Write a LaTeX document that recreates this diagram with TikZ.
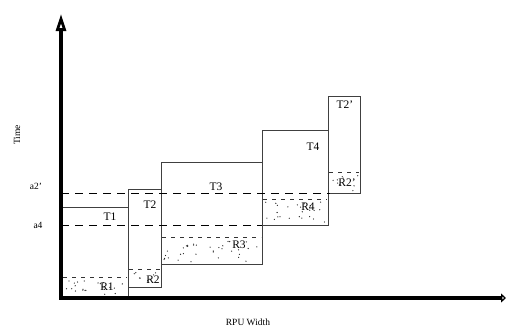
\documentclass[tikz,border=0pt]{standalone}
\usepackage{fontspec}
\setmainfont{Liberation Serif}
\usetikzlibrary{arrows.meta}
\begin{document}
\begin{tikzpicture}[x=1pt,y=-1pt,
  box/.style={draw=black!75,line width=0.9pt},
  lvl/.style={draw=black,line width=0.9pt,dash pattern=on 8pt off 6pt},
  rtop/.style={draw=black!80,line width=0.9pt,dash pattern=on 4pt off 5pt},
  lab/.style={font=\fontsize{11.5}{11.5}\selectfont,inner sep=0pt},
  axlab/.style={font=\fontsize{9.5}{9.5}\selectfont,inner sep=0pt},
  axis/.style={line width=3.5pt,draw=black}]
\useasboundingbox (0,0) rectangle (507,332);
% boxes
\draw[box] (61,207) -- (128,207);
\draw[box] (128,298) -- (128,189) -- (161,189) -- (161,287) -- (128,287);
\draw[box] (161,264) -- (161,162) -- (262,162) -- (262,264) -- cycle;
\draw[box] (262,225) -- (262,130) -- (328,130) -- (328,225) -- cycle;
\draw[box] (328,193) -- (328,96) -- (360,96) -- (360,193) -- cycle;
% reconfiguration tops
\draw[rtop] (63,277) -- (127,277);
\draw[rtop] (129,269) -- (160,269);
\draw[rtop] (162,237) -- (261,237);
\draw[rtop] (263,199) -- (327,199);
\draw[rtop] (329,172) -- (359,172);
% dots
\pgfmathsetseed{11}
\foreach \xa/\ya/\xb/\yb/\n in {64/280/126/295/22, 131/272/159/285/9, 164/241/260/262/34, 265/202/326/223/24, 331/175/358/191/9}{
  \foreach \i in {1,...,\n}{
    \pgfmathsetmacro\px{\xa+rnd*(\xb-\xa)}
    \pgfmathsetmacro\py{\ya+rnd*(\yb-\ya)}
    \fill[black!85] (\px,\py) circle (0.65pt);
  }
}
% levels
\draw[lvl] (61,193) -- (330,193);
\draw[lvl] (61,225) -- (262,225);
% axes
\coordinate (O) at (61,298);
\coordinate (ytop) at (61,14);
\coordinate (xend) at (506,298);
\draw[axis,-{Triangle[open,length=17pt,width=10pt,line width=2.8pt]}] (O) -- (ytop);
\draw[axis,-{Triangle[open,length=5pt,width=9pt,line width=2pt]}] ([xshift=-1.75pt]O) -- (xend);
% labels
\node[lab] (t1) at (110,217) {T1};
\node[lab] (t2) at (150,205) {T2};
\node[lab] (t3) at (216,187) {T3};
\node[lab] (t4) at (313,147) {T4};
\node[lab] (t2p) at (345,105) {T2'};
\node[lab] (r1) at (107,287) {R1};
\node[lab] (r2) at (153,280) {R2};
\node[lab] (r3) at (239,245) {R3};
\node[lab] (r4) at (308,207) {R4};
\node[lab] (r2p) at (347,183) {R2'};
\node[axlab] (a2) at (36,186) {a2'};
\node[axlab] (a4) at (38,225) {a4};
\node[axlab,rotate=90] (time) at (17,135) {Time};
\node[axlab] (rpu) at (248,322) {RPU Width};
\end{tikzpicture}
\end{document}
